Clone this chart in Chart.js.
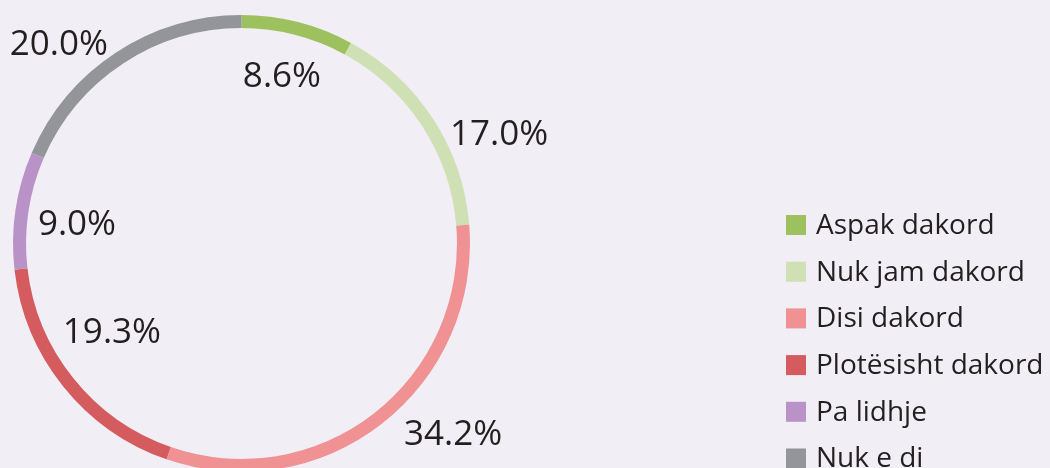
<!DOCTYPE html>
<html>
<head>
<meta charset="utf-8">
<script src="https://cdn.jsdelivr.net/npm/chart.js@4/dist/chart.umd.min.js"></script>
<style>
    html, body { margin: 0; padding: 0; background: #f1eef5; overflow: hidden; }
    #wrap { width: 1050px; height: 500px; position: relative; }
</style>
</head>
<body>
<div id="wrap"><canvas id="chart_opinion"></canvas></div>
<script>
var categories = ['Aspak dakord', 'Nuk jam dakord', 'Disi dakord', 'Plotësisht dakord', 'Pa lidhje', 'Nuk e di'];
var percent = [8.6, 17.0, 34.2, 19.3, 9.0, 20.0];
var colors = ['#9dc15e', '#cfe0b4', '#f09293', '#d45b5e', '#b993c7', '#939598'];

// where each percentage label sits, as a fraction of the outer radius from the centre
var labelDx = [0.177, 1.127, 0.926, -0.567, -0.720, -0.799];
var labelDy = [-0.729, -0.475, 0.838, 0.392, -0.081, -0.869];

var textColor = '#231f20';

var ringLabels = {
    id: 'ringLabels',
    afterDatasetsDraw: function (chart) {
        var arc = chart.getDatasetMeta(0).data[0];
        var r = arc.outerRadius;
        var ctx = chart.ctx;
        ctx.save();
        ctx.fillStyle = textColor;
        ctx.font = '35px "Open Sans"';
        ctx.textAlign = 'center';
        ctx.textBaseline = 'middle';
        for (var i = 0; i < percent.length; i++) {
            ctx.fillText(percent[i].toFixed(1) + '%', arc.x + labelDx[i] * r, arc.y + labelDy[i] * r);
        }
        ctx.restore();
    }
};

var sideLegend = {
    id: 'sideLegend',
    afterDraw: function (chart) {
        var ctx = chart.ctx;
        var ds = chart.data.datasets[0];
        ctx.save();
        ctx.font = '28px "Open Sans"';
        ctx.textBaseline = 'middle';
        for (var i = 0; i < chart.data.labels.length; i++) {
            var y = 225 + i * 46.7;
            ctx.fillStyle = ds.backgroundColor[i];
            ctx.fillRect(786, y - 10, 20, 20);
            ctx.fillStyle = textColor;
            ctx.fillText(chart.data.labels[i], 816, y + 1);
        }
        ctx.restore();
    }
};

var ctx = document.getElementById('chart_opinion');
new Chart(ctx, {
    type: 'doughnut',
    data: {
        labels: categories,
        datasets: [{
            data: percent,
            backgroundColor: colors,
            borderWidth: 0
        }]
    },
    plugins: [ringLabels, sideLegend],
    options: {
        responsive: true,
        maintainAspectRatio: false,
        animation: false,
        cutout: '94.3%',
        layout: {
            padding: { left: 13, top: 15, right: 580, bottom: 28 }
        },
        plugins: {
            legend: { display: false },
            tooltip: { enabled: false }
        }
    }
});
</script>
</body>
</html>
